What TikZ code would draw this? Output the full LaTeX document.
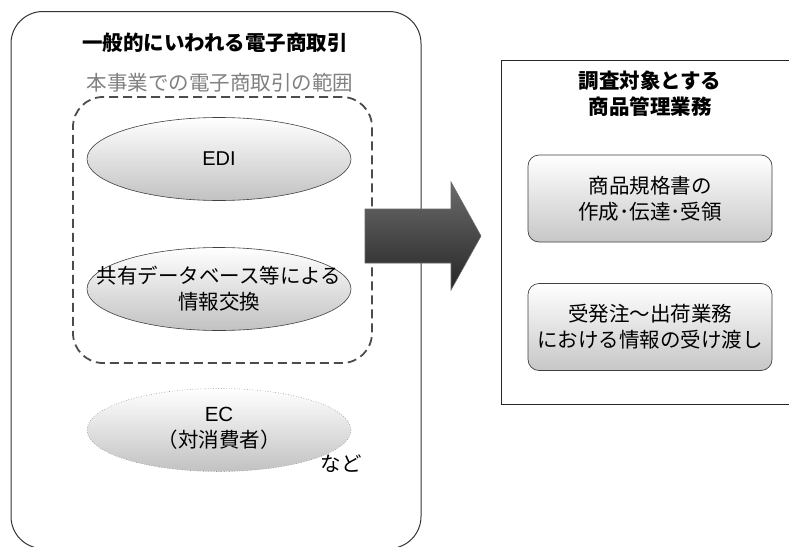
\documentclass[tikz,border=0pt]{standalone}
\usepackage{fontspec}
\setmainfont{Noto Sans CJK JP}
\newfontfamily\latf{Liberation Sans}
\usetikzlibrary{shapes.geometric}
\tikzset{
  outerbox/.style={draw=black!80, line width=1pt, rounded corners=32pt, minimum width=410pt, minimum height=537pt, inner sep=0pt},
  scopebox/.style={draw=black!70, line width=1.8pt, dash pattern=on 9pt off 5pt, rounded corners=30pt, minimum width=299pt, minimum height=266pt, inner sep=0pt},
  oval/.style={ellipse, draw=black!75, line width=0.6pt, top color=white, bottom color=black!24, minimum width=264pt, minimum height=83pt, inner sep=0pt},
  ovaldot/.style={oval, draw=black!45, line width=0.6pt, dotted},
  taskbox/.style={rounded corners=11pt, draw=black!75, line width=0.7pt, top color=white, bottom color=black!22, minimum width=244pt, minimum height=87pt, inner sep=0pt, align=center},
  rightbox/.style={draw=black!85, line width=1pt, minimum width=300pt, minimum height=344pt, inner sep=0pt},
  bigarrow/.style={draw=black!60, line width=0.6pt, top color=black!58, bottom color=black!85},
  body/.style={font=\fontsize{20.5pt}{26pt}\selectfont, align=center, inner sep=0pt},
  headb/.style={font=\bfseries\fontsize{20.5pt}{26pt}\selectfont, align=center},
  sub/.style={font=\fontsize{20.5pt}{26pt}\selectfont, text=black!50}
}
\begin{document}
\begin{tikzpicture}[x=1pt,y=-1pt]
\useasboundingbox (0,0) rectangle (789,546);
% left outer box
\node[outerbox] (outer) at (216,280) {};
\node[headb] (title) at (215,43) {一般的にいわれる電子商取引};
\node[sub] (subtitle) at (220,83) {本事業での電子商取引の範囲};
\node[scopebox] (scope) at (222.5,230) {};
\node[oval] (edi) at (219,159) {};
\node[body, font=\latf\fontsize{20pt}{26pt}\selectfont] (editext) at (edi.center) {EDI};
\node[oval] (shared) at (219,289) {};
\node[body] (sharedtext) at (shared.center) {共有データベース等による\\情報交換};
\node[ovaldot] (ec) at (219,430) {};
\node[body] (ectext) at ([yshift=2pt]ec.center) {{\latf EC}\\（対消費者）};
\node[body] (nado) at (341,464) {など};
% right box
\node[rightbox] (right) at (651,232) {};
\node[headb] (rtitle) at (650,94) {調査対象とする\\商品管理業務};
\node[taskbox, body] (task1) at (650,198.5) {商品規格書の\\作成･伝達･受領};
\node[taskbox, body] (task2) at (650,327) {受発注～出荷業務\\における情報の受け渡し};
% big arrow
\draw[bigarrow] (365,209) -- (451,209) -- (451,182) -- (481,236) -- (451,290) -- (451,263) -- (365,263) -- cycle;
\end{tikzpicture}
\end{document}
